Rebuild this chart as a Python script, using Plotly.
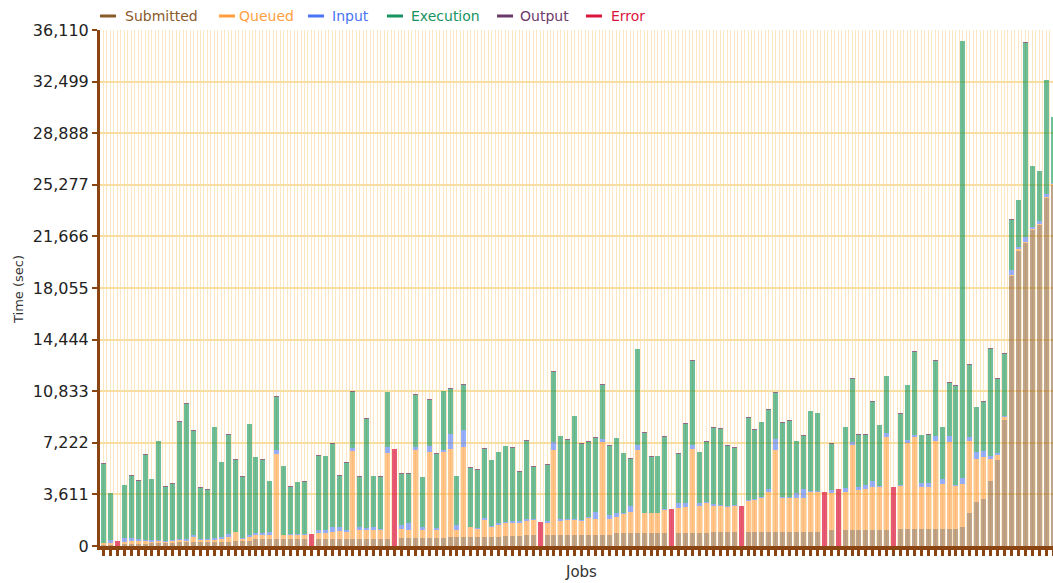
import plotly.graph_objects as go

# ---- data (seconds), one entry per job ----
jobs = list(range(138))

# time at which each phase ended (cumulative)
submitted_end = [
    80, 100, 0, 150, 150, 150, 150, 180, 180, 200,
    200, 250, 250, 250, 300, 300, 300, 300, 300, 330,
    330, 330, 470, 470, 470, 470, 470, 470, 470, 470,
    0, 480, 480, 500, 500, 500, 520, 520, 520, 520,
    520, 520, 0, 540, 540, 560, 560, 560, 560, 580,
    600, 600, 600, 620, 620, 650, 650, 650, 700, 700,
    700, 750, 750, 0, 750, 770, 770, 770, 770, 770,
    770, 770, 770, 770, 890, 890, 890, 890, 890, 890,
    890, 890, 0, 890, 890, 890, 890, 890, 950, 1000,
    1000, 1000, 0, 1000, 1000, 1000, 1000, 1000, 1000, 1000,
    1000, 1000, 1000, 1000, 0, 1120, 0, 1120, 1120, 1120,
    1120, 1120, 1120, 1120, 0, 1170, 1170, 1170, 1170, 1170,
    1170, 1170, 1170, 1170, 1350, 2330, 3100, 3270, 4570, 6020,
    8820, 18900, 20670, 21190, 22120, 22450, 24380, 25270]

queued_end = [
    180, 200, 0, 300, 320, 320, 330, 300, 330, 300,
    350, 420, 380, 650, 400, 420, 450, 500, 620, 950,
    500, 600, 770, 770, 800, 6420, 770, 770, 770, 770,
    0, 920, 920, 1000, 1050, 1000, 6670, 1100, 1100, 1100,
    1100, 6530, 0, 1170, 1120, 6720, 1120, 6600, 1100, 6600,
    6770, 1100, 6950, 1310, 1170, 1820, 1310, 1470, 1630, 1590,
    1590, 1770, 1820, 0, 1630, 6720, 1770, 1820, 1820, 1770,
    1940, 1890, 7260, 1890, 2030, 2220, 2360, 6720, 2290, 2290,
    2290, 2520, 0, 2680, 2750, 6770, 2800, 2990, 2800, 2800,
    2750, 2800, 0, 3170, 3220, 3340, 3800, 6720, 3340, 3340,
    3340, 3340, 3760, 3800, 0, 3730, 0, 3800, 7070, 3920,
    3970, 4100, 4100, 7600, 0, 4200, 7190, 7600, 4150, 4150,
    7370, 4340, 7300, 4200, 4340, 7370, 6070, 6250, 6110, 6370,
    9000, 19000, 20800, 21250, 22150, 22500, 24420, 25300]

input_end = [
    230, 450, 0, 550, 560, 500, 430, 420, 430, 380,
    450, 500, 520, 770, 470, 480, 560, 620, 830, 1000,
    560, 800, 890, 880, 980, 6720, 800, 850, 850, 850,
    0, 1100, 1150, 1350, 1300, 1120, 6840, 1300, 1260, 1300,
    1220, 6910, 0, 1470, 1590, 6910, 1350, 7020, 1290, 6720,
    7840, 1450, 8120, 1350, 1230, 1980, 1420, 1590, 1700, 1750,
    1750, 1870, 1910, 0, 1770, 7300, 1870, 1870, 1870, 1820,
    2050, 2400, 7490, 2170, 2310, 2330, 2800, 7070, 2330, 2330,
    2330, 2590, 0, 3030, 2980, 7050, 3030, 3060, 2960, 2870,
    2800, 2850, 0, 3220, 3270, 3400, 3960, 7490, 3400, 3400,
    3730, 3970, 3820, 3870, 0, 3920, 0, 4080, 7300, 4150,
    4250, 4570, 4200, 7930, 0, 4250, 7420, 7750, 4380, 4430,
    7700, 4670, 7700, 4250, 4740, 7650, 6560, 6670, 6320, 6490,
    9100, 19320, 20900, 21610, 22300, 22730, 24640, 25400]

finish = [
    5790, 3730, 0, 4300, 4960, 4620, 6420, 4700, 7360, 4200,
    4410, 8730, 9980, 8120, 4120, 3970, 8350, 5890, 7830, 6070,
    4880, 8560, 6260, 6070, 4560, 10480, 5630, 4180, 4500, 4550,
    0, 6370, 6320, 7190, 4950, 5880, 10850, 4900, 8940, 4920,
    4880, 10800, 0, 5090, 5090, 10640, 4850, 10270, 6490, 10870,
    11040, 4920, 11320, 5510, 5390, 6840, 6040, 6600, 7020, 6950,
    5250, 7420, 5600, 0, 5740, 12230, 7720, 7470, 9120, 7190,
    7330, 7650, 11340, 7070, 7580, 6530, 6160, 13810, 7980, 6300,
    6320, 7700, 0, 6490, 8590, 13020, 6600, 7350, 8300, 8260,
    7050, 6930, 0, 9030, 8190, 8700, 9590, 10780, 8680, 8820,
    7370, 7750, 9470, 9330, 0, 7190, 0, 8350, 11740, 7820,
    7820, 10120, 8490, 11920, 0, 9290, 11290, 13630, 7790, 7840,
    13020, 8350, 11480, 11250, 35370, 12720, 9750, 10150, 13860, 11760,
    13490, 22870, 24220, 35260, 26620, 26250, 32620, 30050]

output_time = [40] * 138
output_time[59] = 100
output_time[71] = 100

error_jobs = {2: 360, 30: 840, 42: 6790, 63: 1660, 82: 2570,
              92: 2800, 104: 3800, 106: 3970, 114: 4110}

y_ticks = [0, 3611, 7222, 10833, 14444, 18055, 21666, 25277, 28888, 32499, 36110]

# ---- derived stack segments ----
n = len(jobs)
submitted = list(submitted_end)
queued = [queued_end[i] - submitted_end[i] for i in range(n)]
inp = [input_end[i] - queued_end[i] for i in range(n)]
out = [0 if i in error_jobs else output_time[i] for i in range(n)]
execution = [max(finish[i] - input_end[i] - out[i], 0) for i in range(n)]
error = [error_jobs.get(i, 0) for i in range(n)]

series = [
    ("Submitted", submitted, "rgba(139,90,43,0.55)", "#8b5a2b"),
    ("Queued", queued, "rgba(255,159,64,0.6)", "#ff9f40"),
    ("Input", inp, "rgba(64,112,255,0.55)", "#4a74f5"),
    ("Execution", execution, "rgba(20,150,90,0.62)", "#17935f"),
    ("Output", out, "rgba(100,45,100,0.7)", "#6b3a6b"),
    ("Error", error, "rgba(220,20,60,0.7)", "#dc143c"),
]

fig = go.Figure()
for name, vals, fill, _ in series:
    fig.add_trace(go.Bar(x=jobs, y=vals, name=name, marker_color=fill,
                         marker_line_width=0, showlegend=False))

BROWN = "#8b4513"
L, R, T, B = 100, 1053, 30, 546   # plot area in window pixels
W, H = 1053, 583


def px(xp):
    return (xp - L) / (R - L)


def py(yp):
    return (B - yp) / (B - T)


fig.update_layout(
    width=W, height=H,
    margin=dict(l=L, r=W - R, t=T, b=H - B, autoexpand=False),
    barmode="stack", bargap=0.28,
    plot_bgcolor="white", paper_bgcolor="white",
    font=dict(family="DejaVu Sans", size=14, color="#222"),
    xaxis=dict(range=[-0.5, 137.0], tickmode="linear", tick0=0, dtick=1,
               showticklabels=False, ticks="outside", ticklen=6, tickwidth=3,
               tickcolor=BROWN, showline=True, linecolor=BROWN, linewidth=4,
               showgrid=True, gridcolor="#fbe8c2", gridwidth=1,
               minor=dict(tick0=0.5, dtick=1, showgrid=True,
                          gridcolor="#fbe8c2", gridwidth=1, ticks=""),
               zeroline=False, automargin=False, fixedrange=True),
    yaxis=dict(range=[0, 36110], tickmode="array", tickvals=y_ticks,
               ticktext=[f"{v:,}" for v in y_ticks],
               ticks="outside", ticklen=5, tickwidth=2, tickcolor=BROWN,
               showline=True, linecolor=BROWN, linewidth=3,
               showgrid=True, gridcolor="#f8dea0", gridwidth=2,
               zeroline=False, automargin=False, fixedrange=True,
               tickfont=dict(family="DejaVu Sans", size=16, color="#222")),
)

# manual legend (line marks + coloured text)
legend_items = [(100, 123), (219, 237), (308, 330), (387, 409), (497, 518), (586, 609)]
shapes = []
annotations = []
for (lx, tx), (name, _, _, col) in zip(legend_items, series):
    shapes.append(dict(type="line", xref="paper", yref="paper",
                       x0=px(lx), x1=px(lx + 16), y0=py(16), y1=py(16),
                       line=dict(color=col, width=3)))
    annotations.append(dict(xref="paper", yref="paper", x=px(tx), y=py(16),
                            text=name, showarrow=False, xanchor="left",
                            yanchor="middle",
                            font=dict(family="DejaVu Sans", size=14, color=col)))

annotations.append(dict(xref="paper", yref="paper", x=px(18), y=py(290),
                        text="Time (sec)", textangle=-90, showarrow=False,
                        xanchor="center", yanchor="middle",
                        font=dict(family="DejaVu Sans", size=13, color="#333")))
annotations.append(dict(xref="paper", yref="paper", x=px(581), y=py(572),
                        text="Jobs", showarrow=False, xanchor="center",
                        yanchor="middle",
                        font=dict(family="DejaVu Sans", size=15, color="#333")))

fig.update_layout(shapes=shapes, annotations=annotations)
fig.write_html(
    "out.html",
    config={"displayModeBar": False},
    post_script="document.body.style.margin='0';document.body.style.overflow='hidden';",
)
